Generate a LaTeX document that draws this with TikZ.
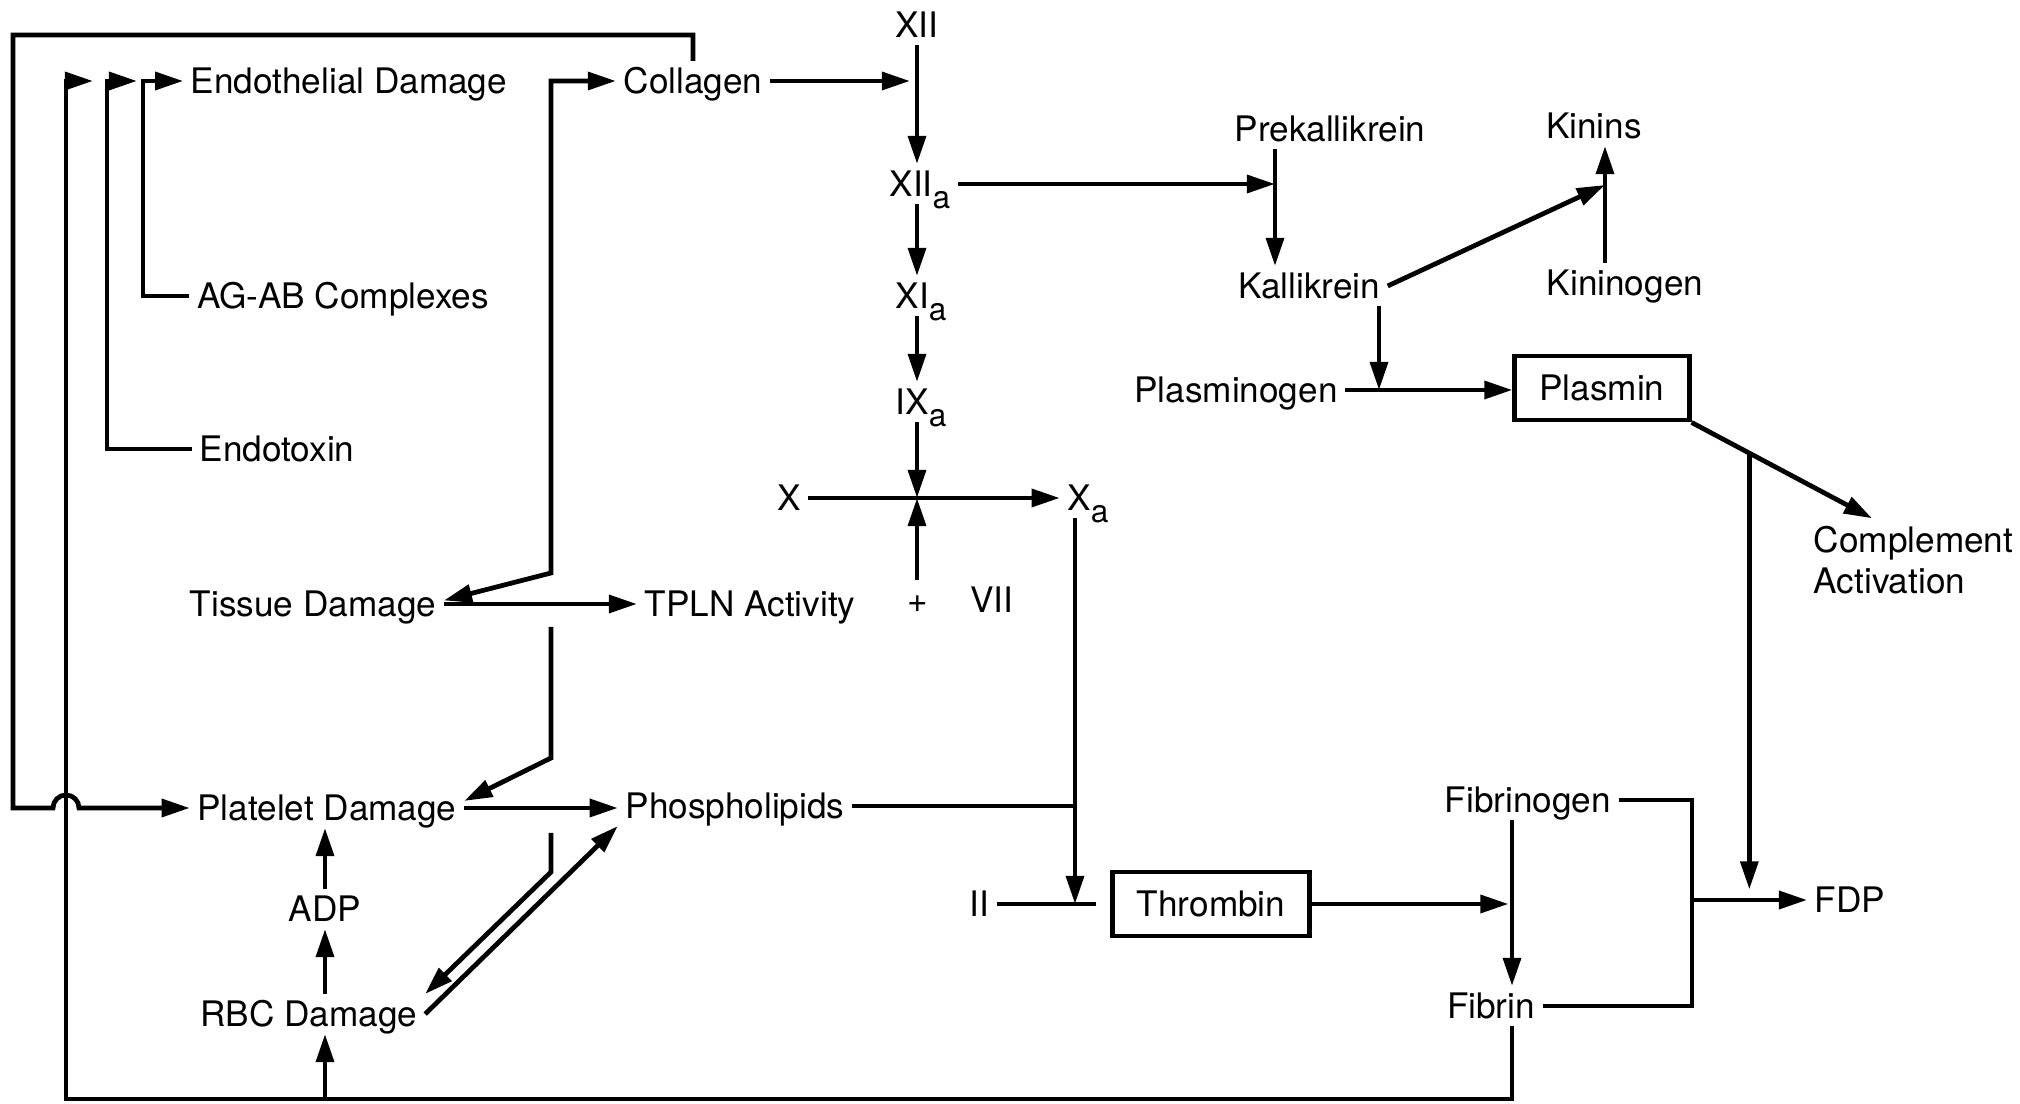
\documentclass[tikz,border=0pt]{standalone}
\usepackage{fontspec}
\setmainfont{TeX Gyre Heros}
\usepackage{tikz}
\usetikzlibrary{arrows.meta, positioning, calc}

\newcommand{\subsc}[1]{\raisebox{-0.65ex}{\fontsize{9}{10}\selectfont #1}}

\begin{document}
\begin{tikzpicture}[
        x=0.01cm, y=-0.01cm,
        font=\fontsize{10}{12}\selectfont,
        >={Triangle[length=8pt, width=5pt]},
        lbl/.style={inner xsep=2pt, inner ysep=2pt, text height=7pt, text depth=0pt},
        box/.style={lbl, draw, line width=1.4pt, inner xsep=7pt, minimum height=0.64cm},
        ln/.style={line width=1.35pt},
        arr/.style={ln, ->}
    ]
        \useasboundingbox (0,0) rectangle (2020,1104);

        % left side
        \node[lbl] (endo) at (349,81) {Endothelial Damage};
        \node[lbl] (coll) at (693,81) {Collagen};
        \node[lbl] (agab) at (343,296) {AG-AB Complexes};
        \node[lbl] (etox) at (277,449) {Endotoxin};
        \node[lbl] (tis) at (313,604) {Tissue Damage};
        \node[lbl] (tpln) at (750,604) {TPLN Activity};
        \node[lbl] (plus) at (918,600) {+};
        \node[lbl] (fvii) at (992,600) {VII};
        \node[lbl] (plt) at (327,808) {Platelet Damage};
        \node[lbl] (phos) at (735,806) {Phospholipids};
        \node[lbl] (adp) at (325,909) {ADP};
        \node[lbl] (rbc) at (309,1014) {RBC Damage};

        % cascade
        \node[lbl] (fxii) at (917,25) {XII};
        \node[lbl] (fxiia) at (920,184) {XII\subsc{a}};
        \node[lbl] (fxia) at (921,296) {XI\subsc{a}};
        \node[lbl] (fixa) at (921,402) {IX\subsc{a}};
        \node[lbl] (fx) at (789,498) {X};
        \node[lbl] (fxa) at (1088,498) {X\subsc{a}};
        \node[lbl] (fii) at (979,904) {II};
        \node[box] (thr) at (1211,904) {Thrombin};
        \node[lbl] (fbg) at (1528,800) {Fibrinogen};
        \node[lbl] (fbn) at (1491,1006) {Fibrin};
        \node[lbl] (fdp) at (1850,900) {FDP};

        % kinins / plasmin
        \node[lbl] (prek) at (1330,129) {Prekallikrein};
        \node[lbl] (kinins) at (1594,126) {Kinins};
        \node[lbl] (kall) at (1309,286) {Kallikrein};
        \node[lbl] (kinog) at (1625,283) {Kininogen};
        \node[lbl] (plsg) at (1236,390) {Plasminogen};
        \node[box] (plsm) at (1602,388) {Plasmin};
        \node[inner sep=2pt, align=left, anchor=west, font=\fontsize{10}{11.7}\selectfont] (compl) at (1806,560) {Complement\\Activation};

        % junction points
        \coordinate (lpo) at (13,35);
        \coordinate (lpi) at (66,1099);
        \coordinate (fa) at (107,81);
        \coordinate (fb) at (143,81);
        \coordinate (cx) at (917,0);
        \coordinate (t1) at (551,573);
        \coordinate (t2) at (551,627);
        \coordinate (t3) at (551,758);
        \coordinate (t4) at (551,833);
        \coordinate (t5) at (551,872);
        \coordinate (xdn) at (1075,0);
        \coordinate (fbx) at (1512,0);
        \coordinate (jx) at (1692,0);
        \coordinate (pkx) at (1275,0);
        \coordinate (klx) at (1379,0);
        \coordinate (knx) at (1605,185);
        \coordinate (cmptip) at ([xshift=0.66cm]compl.north west);
        \coordinate (pbr) at ($(plsm.south east)!0.32!(cmptip)$);

        % feedback loops
        \draw[arr] (coll.north) |- (lpo) -- (lpo |- plt.west) -- ++(40,0)
            arc[start angle=180, end angle=0, radius=0.13cm] -- (plt.west);
        \draw[arr] (fbn.south -| fbx) -- (fbx |- lpi) -- (lpi) -- (lpi |- endo) -- ++(27,0);
        \draw[arr] (etox.west) -| (fa) -- ++(30,0);
        \draw[arr] (agab.west) -| (fb) -- (endo.west);
        \draw[arr] (adp |- lpi) -- (adp |- rbc.south);
        \draw[arr] (adp |- rbc.north) -- (adp.south);
        \draw[arr] (adp.north) -- (adp |- plt.south);

        % trunk from collagen
        \draw[arr, <->] ([yshift=1pt]tis.east) -- (t1) -- (t1 |- coll.west) -- (coll.west);
        \draw[arr] (tis.east) -- (tis.east -| tpln.west);
        \draw[arr] (t2) -- (t3) -- ([yshift=2pt]plt.east);
        \draw[arr] (plt.east) -- (plt.east -| phos.west);
        \draw[arr] (t4) -- (t5) -- (rbc.north east);
        \draw[arr] (rbc.east) -- (phos.south west);

        % intrinsic cascade
        \draw[arr, shorten >=2pt] (coll.east) -- (coll.east -| cx);
        \draw[arr] (cx |- fxii.south) -- (cx |- fxiia.north);
        \draw[arr] (cx |- fxiia.south) -- (cx |- fxia.north);
        \draw[arr] (cx |- fxia.south) -- (cx |- fixa.north);
        \draw[arr] (cx |- fixa.south) -- (cx |- fx);
        \draw[arr] (cx |- plus.north) -- (cx |- fx);
        \draw[arr] (fx.east) -- (fxa.west);
        \draw[ln] (phos.east) -- (phos.east -| xdn);
        \draw[arr] (xdn |- fxa.south) -- (xdn |- fii);
        \draw[ln] (fii.east) -- ([xshift=-4pt]thr.west);
        \draw[arr, shorten >=1pt] (thr.east) -- (thr.east -| fbx);
        \draw[arr] (fbg.south -| fbx) -- (fbx |- fbn.north);
        \draw[ln] (fbg.east) -| (jx |- fbn.east) -- (fbn.east);
        \draw[arr] (jx |- fdp) -- (fdp.west);

        % kallikrein / plasmin
        \draw[arr] (fxiia.east) -- (fxiia.east -| pkx);
        \draw[arr] (pkx |- prek.south) -- (pkx |- kall.north);
        \draw[arr] (kall.east) -- (knx);
        \draw[arr] (knx |- kinog.north) -- (knx |- kinins.south);
        \draw[arr] (klx |- kall.south) -- (klx |- plsg);
        \draw[arr] (plsg.east) -- (plsg.east -| plsm.west);
        \draw[arr] (plsm.south east) -- (cmptip);
        \draw[arr, shorten >=3pt] (pbr) -- (pbr |- fdp);
    \end{tikzpicture}
\end{document}
